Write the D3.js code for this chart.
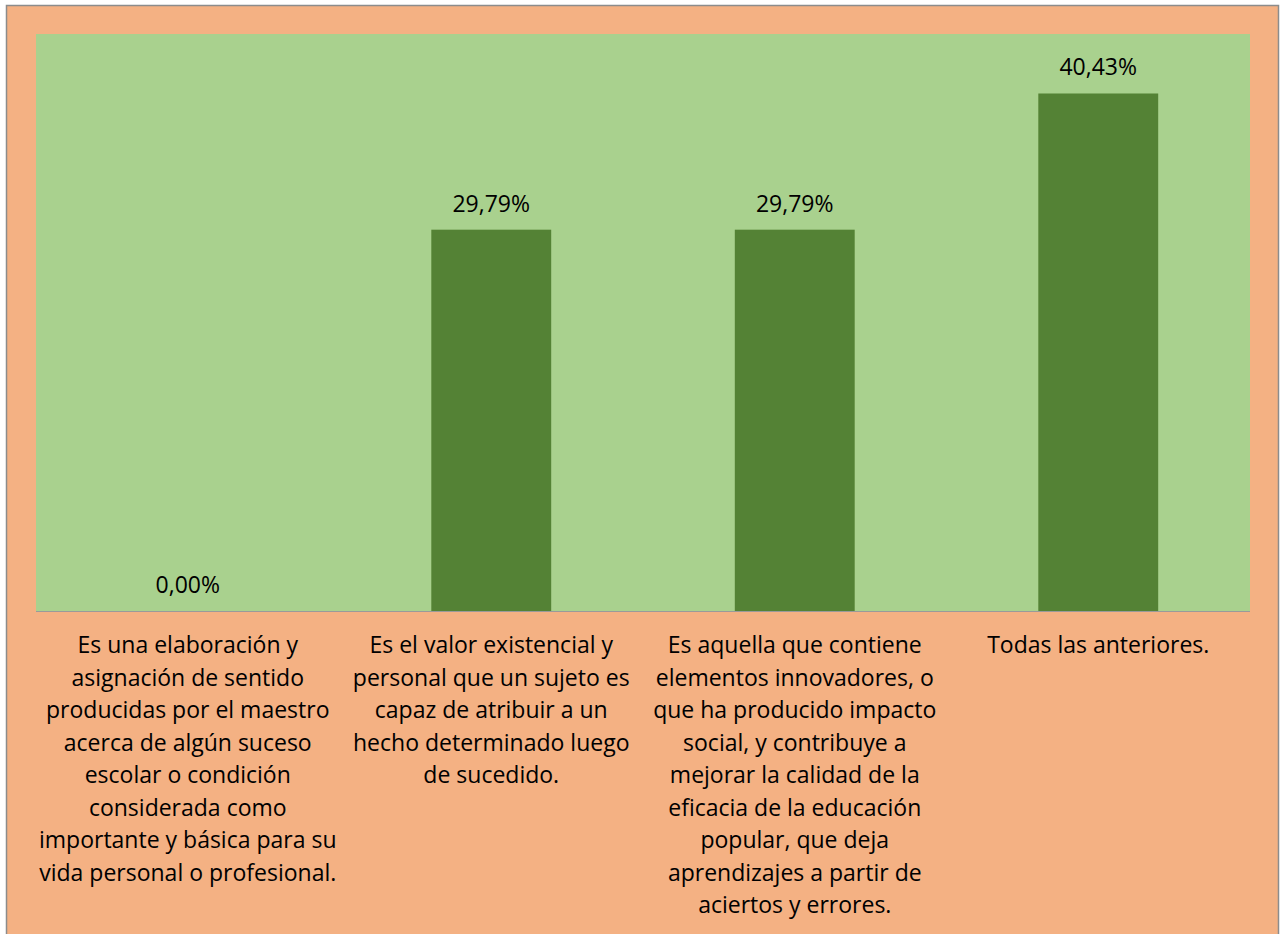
<!DOCTYPE html>
<html>
<head>
<meta charset="utf-8">
<script src="https://cdn.jsdelivr.net/npm/d3@7"></script>
<style>
  body { margin: 0; background: #fff; }
  text { font-family: "Open Sans", Lato, sans-serif; fill: #000; }
</style>
</head>
<body>
<div id="chart"></div>
<script>
// data
var categories = ["c1", "c2", "c3", "c4"];
var values = [0.00, 29.79, 29.79, 40.43];
var valueLabels = ["0,00%", "29,79%", "29,79%", "40,43%"];
var categoryLines = [
    ["Es una elaboración y", "asignación de sentido", "producidas por el maestro", "acerca de algún suceso",
     "escolar o condición", "considerada como", "importante y básica para su", "vida personal o profesional."],
    ["Es el valor existencial y", "personal que un sujeto es", "capaz de atribuir a un",
     "hecho determinado luego", "de sucedido."],
    ["Es aquella que contiene", "elementos innovadores, o", "que ha producido impacto", "social, y contribuye a",
     "mejorar la calidad de la", "eficacia de la educación", "popular, que deja", "aprendizajes a partir de",
     "aciertos y errores."],
    ["Todas las anteriores."]
];

var width = 1288;
var height = 934;
var plot = { left: 36, right: 1250, top: 34, bottom: 611 };

var svg = d3.select("#chart")
    .append("svg")
    .attr("width", width)
    .attr("height", height);

// chart background + border
svg.append("rect")
    .attr("x", 6.5).attr("y", 5.5)
    .attr("width", 1272).attr("height", 940)
    .attr("fill", "#F4B183")
    .attr("stroke", "#8c8c8c")
    .attr("stroke-width", 1.5);

// plot area
svg.append("rect")
    .attr("x", plot.left).attr("y", plot.top)
    .attr("width", plot.right - plot.left).attr("height", plot.bottom - plot.top)
    .attr("fill", "#A9D18E");

var x = d3.scaleBand()
    .domain(categories)
    .range([plot.left, plot.right])
    .paddingInner(0.605)
    .paddingOuter(0.3025);

var y = d3.scaleLinear()
    .domain([0, 45])
    .range([plot.bottom, plot.bottom - 45 * 12.8]);

svg.selectAll(".bar")
    .data(values)
    .enter()
    .append("rect")
    .attr("class", "bar")
    .attr("x", (d, i) => x(categories[i]))
    .attr("width", x.bandwidth())
    .attr("y", d => y(d))
    .attr("height", d => y(0) - y(d))
    .attr("fill", "#548235");

// value labels
svg.selectAll(".val")
    .data(values)
    .enter()
    .append("text")
    .attr("class", "val")
    .attr("x", (d, i) => x(categories[i]) + x.bandwidth() / 2)
    .attr("y", d => y(d) - 18)
    .attr("text-anchor", "middle")
    .attr("font-size", 23)
    .text((d, i) => valueLabels[i]);

// x axis line
svg.append("line")
    .attr("x1", plot.left).attr("x2", plot.right)
    .attr("y1", plot.bottom + 0.5).attr("y2", plot.bottom + 0.5)
    .attr("stroke", "#9a9a9a")
    .attr("stroke-width", 1);

// category labels
var labelG = svg.selectAll(".cat")
    .data(categoryLines)
    .enter()
    .append("text")
    .attr("class", "cat")
    .attr("text-anchor", "middle")
    .attr("font-size", 23)
    .attr("transform", (d, i) => "translate(" + (x(categories[i]) + x.bandwidth() / 2) + ",653)");

labelG.selectAll("tspan")
    .data(d => d)
    .enter()
    .append("tspan")
    .attr("x", 0)
    .attr("y", (d, j) => j * 32.5)
    .text(d => d);
</script>
</body>
</html>
